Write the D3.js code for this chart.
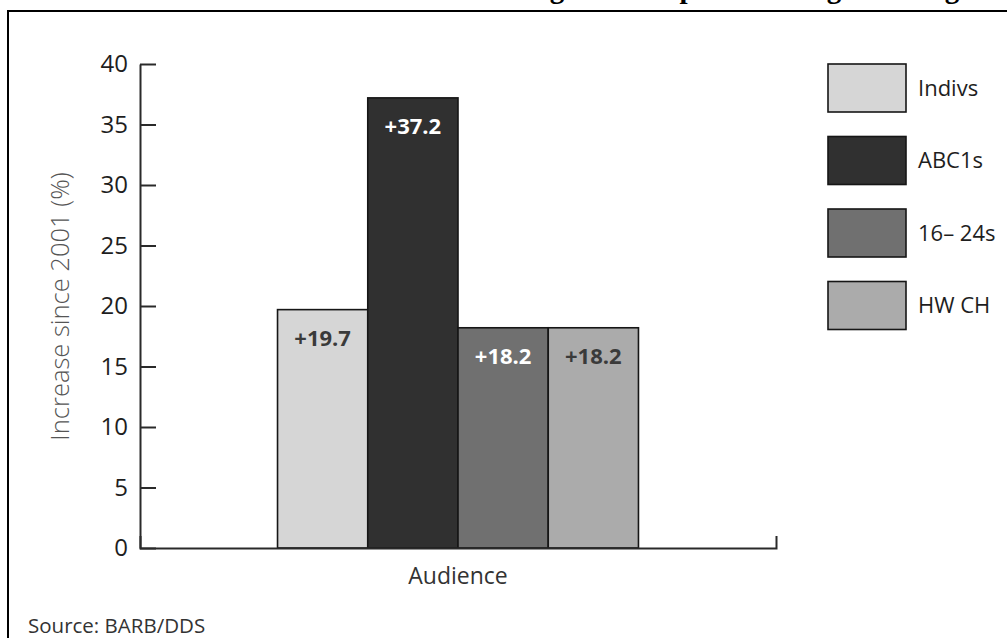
<!DOCTYPE html>
<html>
<head>
<meta charset="utf-8">
<script src="https://cdn.jsdelivr.net/npm/d3@7"></script>
<style>
  html, body { margin: 0; padding: 0; background: #fff; }
  svg { display: block; }
</style>
</head>
<body>
<svg id="chart" width="1007" height="638" font-family="'Open Sans', 'Noto Sans', sans-serif"></svg>
<script>
// Audience growth since 2001, by group
const categories = ["Audience"];
const groups = ["Indivs", "ABC1s", "16\u2013 24s", "HW CH"];
const values = [19.7, 37.2, 18.2, 18.2];
const yTicks = [0, 5, 10, 15, 20, 25, 30, 35, 40];
const barColors = ["#d6d6d6", "#303030", "#707070", "#ababab"];
const labelColors = ["#3a3a3a", "#ffffff", "#ffffff", "#3a3a3a"];

const svg = d3.select("#chart");

// Report heading, running off the top of the page
svg.append("text")
  .attr("x", 482).attr("y", -2.2)
  .attr("font-family", "'Liberation Serif', 'DejaVu Serif', serif")
  .attr("font-weight", "bold")
  .attr("font-size", 29)
  .attr("fill", "#000")
  .text("Change in total peak viewing for all ages");

// Frame around the figure
svg.append("path")
  .attr("d", "M8,660V11H1030")
  .attr("fill", "none")
  .attr("stroke", "#000")
  .attr("stroke-width", 2);

const plotLeft = 140, plotRight = 776, plotTop = 64, plotBottom = 548;

const y = d3.scaleLinear().domain([0, 40]).range([plotBottom, plotTop]);
const x0 = d3.scaleBand().domain(categories).range([plotLeft, plotRight])
  .paddingInner(0.2759).paddingOuter(0.2759);
const x1 = d3.scaleBand().domain(groups).range([0, x0.bandwidth()]).padding(0);

// Bars
const g = svg.append("g");
categories.forEach(cat => {
  const rows = groups.map((k, i) => ({ k, v: values[i], i }));
  const grp = g.append("g").attr("transform", `translate(${x0(cat)},0)`);
  grp.selectAll("rect")
    .data(rows)
    .join("rect")
    .attr("x", d => x1(d.k))
    .attr("y", d => y(d.v))
    .attr("width", x1.bandwidth())
    .attr("height", d => y(0) - y(d.v))
    .attr("fill", d => barColors[d.i])
    .attr("stroke", "#161616")
    .attr("stroke-width", 1.6);
  grp.selectAll("text")
    .data(rows)
    .join("text")
    .attr("x", d => x1(d.k) + x1.bandwidth() / 2)
    .attr("y", d => y(d.v) + 36)
    .attr("text-anchor", "middle")
    .attr("font-size", 22)
    .attr("font-weight", "bold")
    .attr("fill", d => labelColors[d.i])
    .text(d => "+" + d.v.toFixed(1));
});

// Y axis with ticks pointing into the plot
const yAxis = svg.append("g")
  .attr("transform", `translate(${plotLeft},0)`)
  .call(d3.axisLeft(y).tickValues(yTicks).tickSizeInner(-16).tickSizeOuter(0).tickPadding(12));
yAxis.selectAll("path, line").attr("stroke", "#2a2a2a").attr("stroke-width", 2);
yAxis.selectAll("text")
  .attr("font-size", 24)
  .attr("font-family", "'Open Sans', sans-serif")
  .attr("fill", "#1e1e1e");

// X axis: baseline with an upward end tick
const xAxis = svg.append("g")
  .attr("transform", `translate(0,${plotBottom})`)
  .call(d3.axisBottom(x0).tickSizeInner(0).tickSizeOuter(-12).tickPadding(20));
xAxis.selectAll("path, line").attr("stroke", "#2a2a2a").attr("stroke-width", 2);
xAxis.selectAll("text")
  .attr("font-size", 23)
  .attr("font-family", "'Open Sans', sans-serif")
  .attr("fill", "#333");

// Y axis title
svg.append("text")
  .attr("transform", `translate(69,${(168 + 445) / 2}) rotate(-90)`)
  .attr("text-anchor", "middle")
  .attr("font-size", 25.5)
  .attr("font-weight", 300)
  .attr("fill", "#555")
  .text("Increase since 2001 (%)");

// Legend
const legend = svg.append("g").attr("transform", "translate(828,64)");
groups.forEach((k, i) => {
  const row = legend.append("g").attr("transform", `translate(0,${i * 72.5})`);
  row.append("rect")
    .attr("width", 78).attr("height", 48)
    .attr("fill", barColors[i])
    .attr("stroke", "#161616")
    .attr("stroke-width", 1.6);
  row.append("text")
    .attr("x", 90).attr("y", 24).attr("dy", "0.35em")
    .attr("font-size", 22)
    .attr("fill", "#1e1e1e")
    .text(k);
});

// Source note
svg.append("text")
  .attr("x", 28).attr("y", 633)
  .attr("font-size", 20.5)
  .attr("fill", "#333")
  .text("Source: BARB/DDS");
</script>
</body>
</html>
